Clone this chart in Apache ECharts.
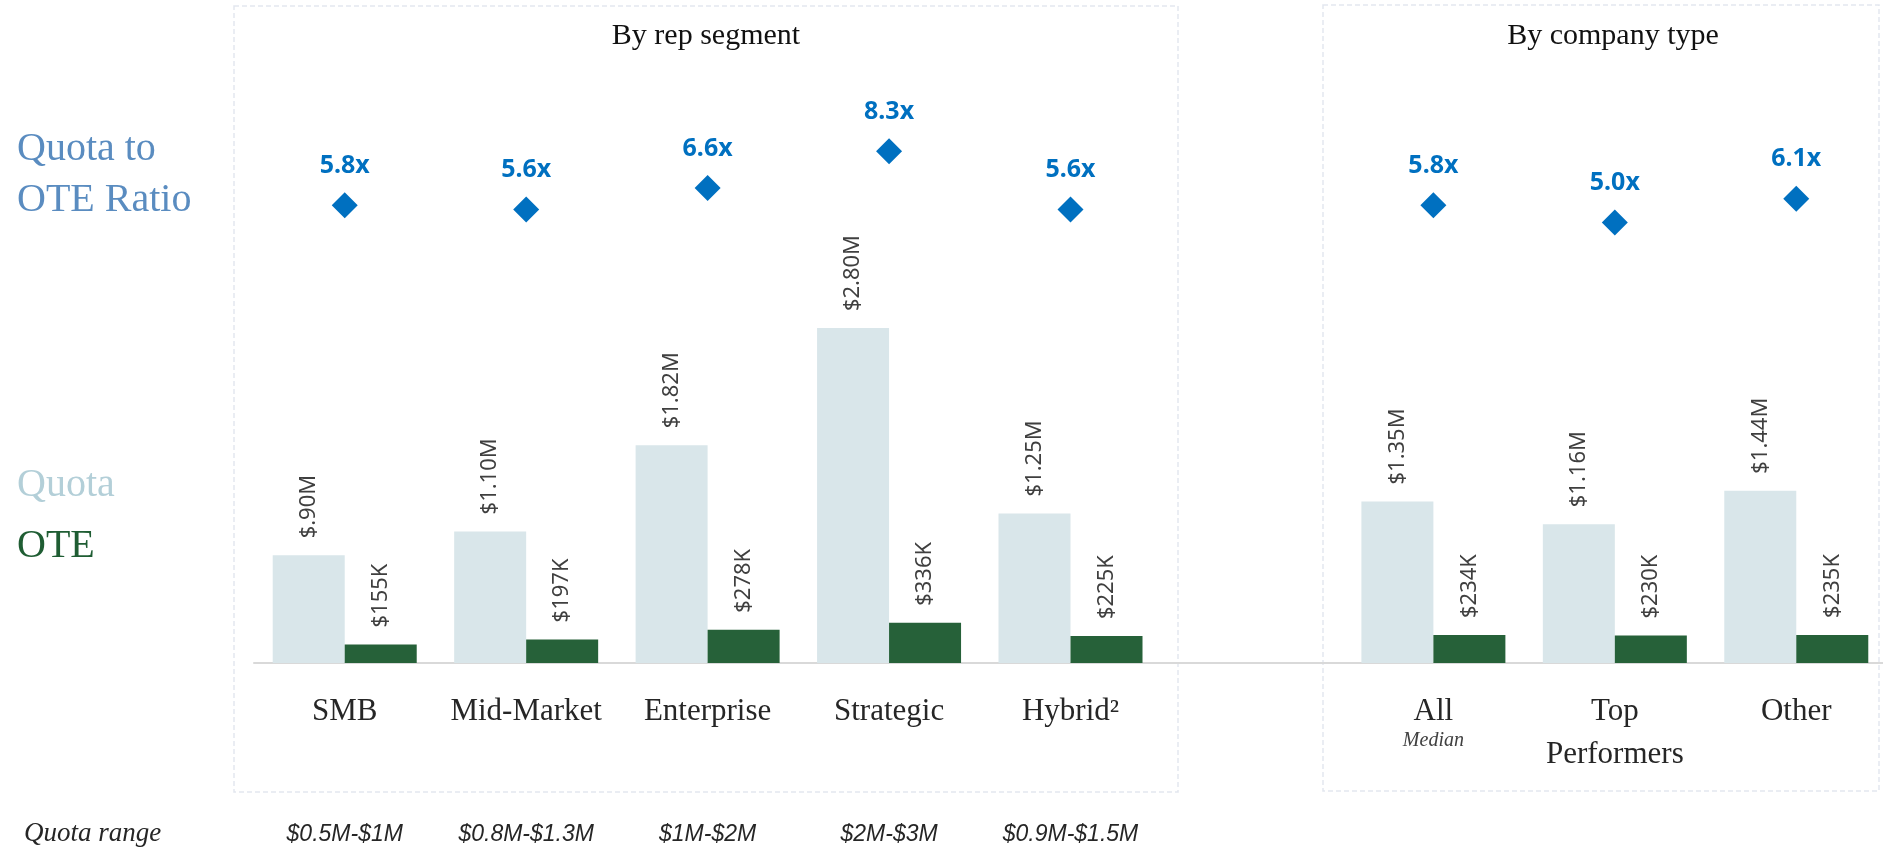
<!DOCTYPE html>
<html>
<head>
<meta charset="utf-8">
<title>Quota and OTE by segment</title>
<script src="https://cdn.jsdelivr.net/npm/echarts@6/dist/echarts.min.js"></script>
<style>
  html, body { margin: 0; padding: 0; background: #fff; overflow: hidden; }
  #chart { width: 1900px; height: 850px; }
</style>
</head>
<body>
<div id="chart"></div>
<script>
// categories (the empty one is the gap between the two panels)
var categories = ['SMB', 'Mid-Market', 'Enterprise', 'Strategic', 'Hybrid\u00b2', '', 'All', 'Top\nPerformers', 'Other'];
var subLabels = ['', '', '', '', '', '', 'Median', '', ''];
var quotaRanges = ['$0.5M-$1M', '$0.8M-$1.3M', '$1M-$2M', '$2M-$3M', '$0.9M-$1.5M', '', '', '', ''];

// values in $M
var quota = [0.90, 1.10, 1.82, 2.80, 1.25, null, 1.35, 1.16, 1.44];
var ote = [0.155, 0.197, 0.278, 0.336, 0.225, null, 0.234, 0.230, 0.235];
var ratio = [5.8, 5.6, 6.6, 8.3, 5.6, null, 5.8, 5.0, 6.1];

var panelTitles = ['By rep segment', 'By company type'];

var serif = '"Liberation Serif", "DejaVu Serif", serif';
var sans = '"Noto Sans", "Open Sans", sans-serif';

var myChart = echarts.init(document.getElementById('chart'));

function quotaLabel(v) {
    var s = v.toFixed(2);
    if (v < 1) {
        s = s.slice(1);
    }
    return '$' + s + 'M';
}

var valueLabel = {
    show: true,
    position: 'top',
    rotate: 90,
    align: 'left',
    verticalAlign: 'middle',
    distance: 17,
    fontFamily: sans,
    fontSize: 22,
    color: '#3f3f3f'
};

var option = {
    animation: false,
    backgroundColor: '#ffffff',
    graphic: [
        {
            type: 'rect', silent: true, z: -1,
            shape: { x: 234, y: 6, width: 944, height: 786 },
            style: { fill: 'none', stroke: '#e3e7ef', lineWidth: 1.5, lineDash: [5, 3] }
        },
        {
            type: 'rect', silent: true, z: -1,
            shape: { x: 1323, y: 5, width: 556, height: 786 },
            style: { fill: 'none', stroke: '#e3e7ef', lineWidth: 1.5, lineDash: [5, 3] }
        },
        {
            type: 'text',
            style: { text: panelTitles[0], x: 706, y: 36, textAlign: 'center', textVerticalAlign: 'middle',
                     font: '30px ' + serif, fill: '#111111' }
        },
        {
            type: 'text',
            style: { text: panelTitles[1], x: 1613, y: 36, textAlign: 'center', textVerticalAlign: 'middle',
                     font: '30px ' + serif, fill: '#111111' }
        },
        {
            type: 'text',
            style: { text: 'Quota to\nOTE Ratio', x: 17, y: 175, textAlign: 'left', textVerticalAlign: 'middle',
                     font: '40px ' + serif, lineHeight: 51, fill: '#5a8cc0' }
        },
        {
            type: 'text',
            style: { text: 'Quota', x: 17, y: 485, textAlign: 'left', textVerticalAlign: 'middle',
                     font: '40px ' + serif, fill: '#b3cfd8' }
        },
        {
            type: 'text',
            style: { text: 'OTE', x: 17, y: 546, textAlign: 'left', textVerticalAlign: 'middle',
                     font: '40px ' + serif, fill: '#1f5d33' }
        },
        {
            type: 'text',
            style: { text: 'Quota range', x: 24, y: 834, textAlign: 'left', textVerticalAlign: 'middle',
                     font: 'italic 27px ' + serif, fill: '#262626' }
        }
    ],
    grid: [
        { left: 254, width: 1633, top: 65, bottom: 187 },
        { left: 254, width: 1633, top: 114.5, height: 216 }
    ],
    xAxis: [
        {
            type: 'category',
            gridIndex: 0,
            data: categories,
            axisLine: { lineStyle: { color: '#d9d9d9', width: 2 } },
            axisTick: { show: false },
            axisLabel: {
                interval: 0,
                margin: 27,
                fontFamily: serif,
                fontSize: 31,
                lineHeight: 43,
                color: '#262626',
                formatter: function (v, i) {
                    if (subLabels[i]) {
                        return '{a|' + v + '}\n{m|' + subLabels[i] + '}';
                    }
                    return v;
                },
                rich: {
                    a: { fontFamily: serif, fontSize: 31, lineHeight: 43, color: '#262626' },
                    m: { fontFamily: serif, fontSize: 20, fontStyle: 'italic', lineHeight: 16, color: '#404040' }
                }
            }
        },
        {
            type: 'category',
            gridIndex: 0,
            position: 'bottom',
            offset: 160,
            data: quotaRanges,
            axisLine: { show: false },
            axisTick: { show: false },
            axisLabel: {
                interval: 0,
                margin: 0,
                fontFamily: '"Liberation Sans", sans-serif',
                fontStyle: 'italic',
                fontSize: 23,
                color: '#262626'
            }
        },
        {
            type: 'category',
            gridIndex: 1,
            data: categories,
            show: false
        }
    ],
    yAxis: [
        { type: 'value', gridIndex: 0, min: 0, max: 5, show: false, splitLine: { show: false } },
        { type: 'value', gridIndex: 1, min: 0, max: 10, show: false, splitLine: { show: false } }
    ],
    series: [
        {
            name: 'Quota',
            type: 'bar',
            xAxisIndex: 0,
            yAxisIndex: 0,
            barWidth: 72,
            barGap: '0%',
            data: quota,
            itemStyle: { color: '#d9e6ea' },
            label: Object.assign({}, valueLabel, { formatter: function (p) { return quotaLabel(p.value); } })
        },
        {
            name: 'OTE',
            type: 'bar',
            xAxisIndex: 0,
            yAxisIndex: 0,
            barWidth: 72,
            barGap: '0%',
            data: ote,
            itemStyle: { color: '#266139' },
            label: Object.assign({}, valueLabel, { formatter: function (p) { return '$' + Math.round(p.value * 1000) + 'K'; } })
        },
        {
            name: 'Quota to OTE Ratio',
            type: 'scatter',
            xAxisIndex: 2,
            yAxisIndex: 1,
            symbol: 'diamond',
            symbolSize: 26,
            data: ratio,
            itemStyle: { color: '#0070c0', opacity: 1 },
            label: {
                show: true,
                position: 'top',
                distance: 14,
                fontFamily: sans,
                fontWeight: 'bold',
                fontSize: 25,
                color: '#0070c0',
                formatter: function (p) { return p.value.toFixed(1) + 'x'; }
            }
        }
    ]
};

myChart.setOption(option);
</script>
</body>
</html>
